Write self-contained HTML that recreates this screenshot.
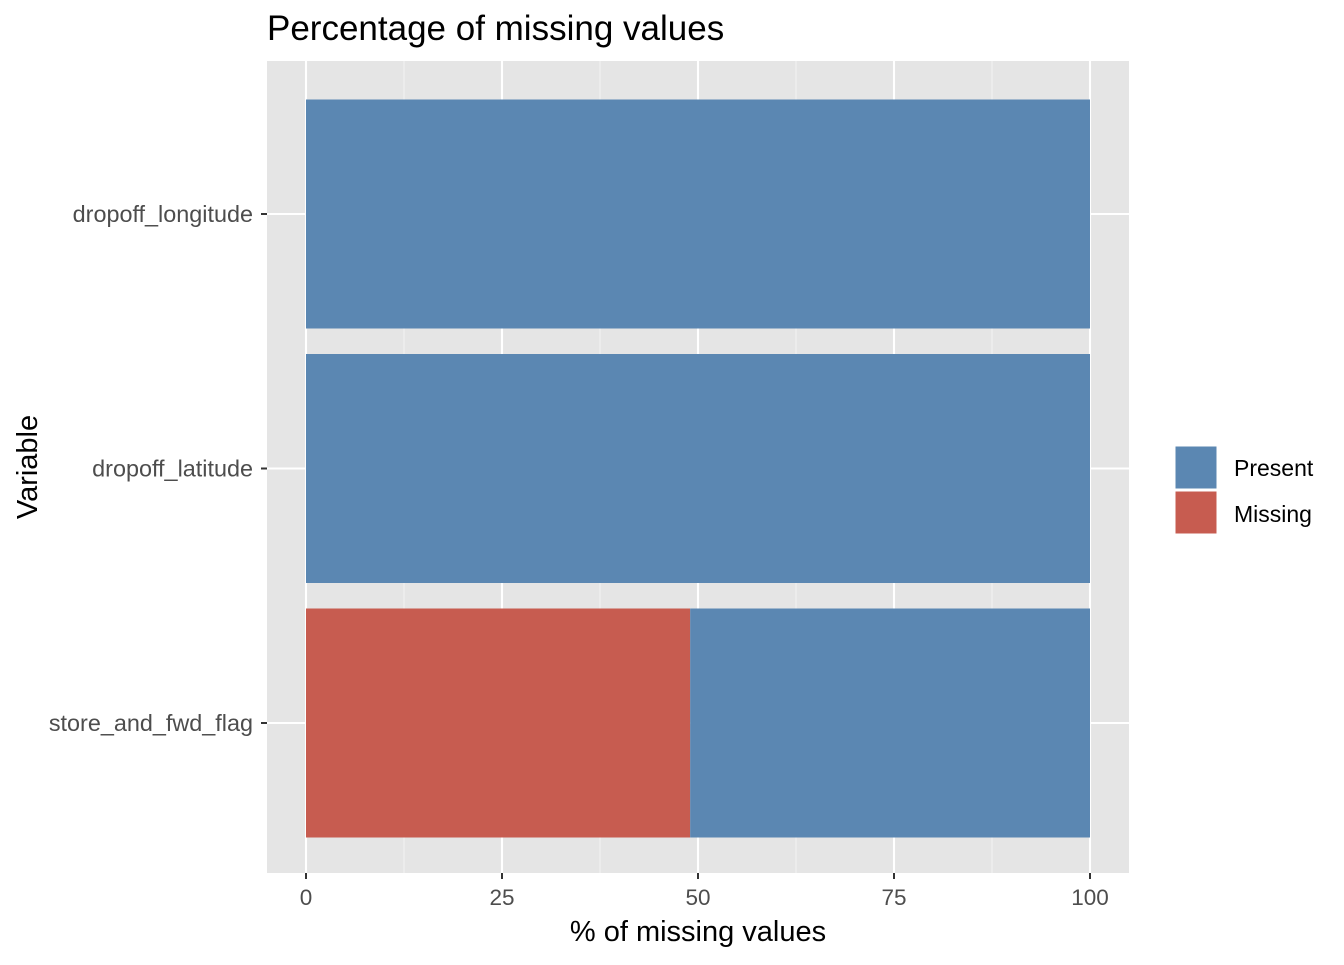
<!DOCTYPE html>
<html><head><meta charset="utf-8"><style>
body{margin:0;background:#fff;font-family:"Liberation Sans",Arial,sans-serif}
</style></head><body>
<svg id="chart" width="1344" height="960" xmlns="http://www.w3.org/2000/svg" font-family="Liberation Sans, Arial, sans-serif">
<text x="267" y="40" font-size="35" fill="#000">Percentage of missing values</text>
<rect x="267" y="61" width="862" height="812" fill="#e5e5e5"/>
<g id="grid"></g><g id="bars"></g><g id="axes"></g>
<text x="698" y="941" font-size="29" text-anchor="middle" fill="#000">% of missing values</text>
<text transform="translate(37,467) rotate(-90)" font-size="29" text-anchor="middle" fill="#000">Variable</text>
<g>
<rect x="1175" y="446" width="42" height="43" fill="#5b87b2" stroke="#fff"/>
<text x="1234" y="476" font-size="23" fill="#000">Present</text>
<rect x="1175" y="491" width="42" height="43" fill="#c75c50" stroke="#fff"/>
<text x="1234" y="522" font-size="23" fill="#000">Missing</text>
</g>
</svg>
<script>
const categories=["dropoff_longitude","dropoff_latitude","store_and_fwd_flag"];
const missingPct=[0,0,49];
const xTicks=[0,25,50,75,100];
const ns="http://www.w3.org/2000/svg";
const x=v=>306+v*7.84;
const bandStep=254.5, y0=214;
const yc=i=>y0+i*bandStep;
const barH=229;
function mk(tag,attrs,parent){const e=document.createElementNS(ns,tag);for(const k in attrs)e.setAttribute(k,attrs[k]);parent.appendChild(e);return e;}
const grid=document.getElementById('grid'),bars=document.getElementById('bars'),axes=document.getElementById('axes');
for(let i=0;i<xTicks.length-1;i++){const m=(xTicks[i]+xTicks[i+1])/2;
 const l=mk('line',{x1:x(m),x2:x(m),y1:61,y2:873,stroke:'#f2f2f2','stroke-width':1.1},grid);
 
 }
xTicks.forEach(t=>{
 const l=mk('line',{x1:x(t),x2:x(t),y1:61,y2:873,stroke:'#fff','stroke-width':2.1},grid);
 
 
 const tk=mk('line',{x1:x(t),x2:x(t),y1:873,y2:879,stroke:'#333','stroke-width':2},axes);
 
 
 const tx=mk('text',{x:x(t),y:905,'font-size':22.5,'text-anchor':'middle',fill:'#4d4d4d'},axes);
 tx.textContent=t;
 
 
});
categories.forEach((c,i)=>{
 const y=yc(i);
 const g=mk('line',{x1:267,x2:1129,y1:y,y2:y,stroke:'#fff','stroke-width':2.1},grid);
 
 
 const tk=mk('line',{x1:261,x2:267,y1:y,y2:y,stroke:'#333','stroke-width':2},axes);
 
 
 const tx=mk('text',{x:253,y:y+8,'font-size':23.4,'text-anchor':'end',fill:'#4d4d4d'},axes);
 tx.textContent=c;
 
 
 const m=missingPct[i];
 if(m>0){const r=mk('rect',{x:x(0),y:y-barH/2,width:x(m)-x(0),height:barH,fill:'#c75c50'},bars);
  
  }
 const r2=mk('rect',{x:x(m),y:y-barH/2,width:x(100)-x(m),height:barH,fill:'#5b87b2'},bars);
 
 
});
</script>
</body></html>
